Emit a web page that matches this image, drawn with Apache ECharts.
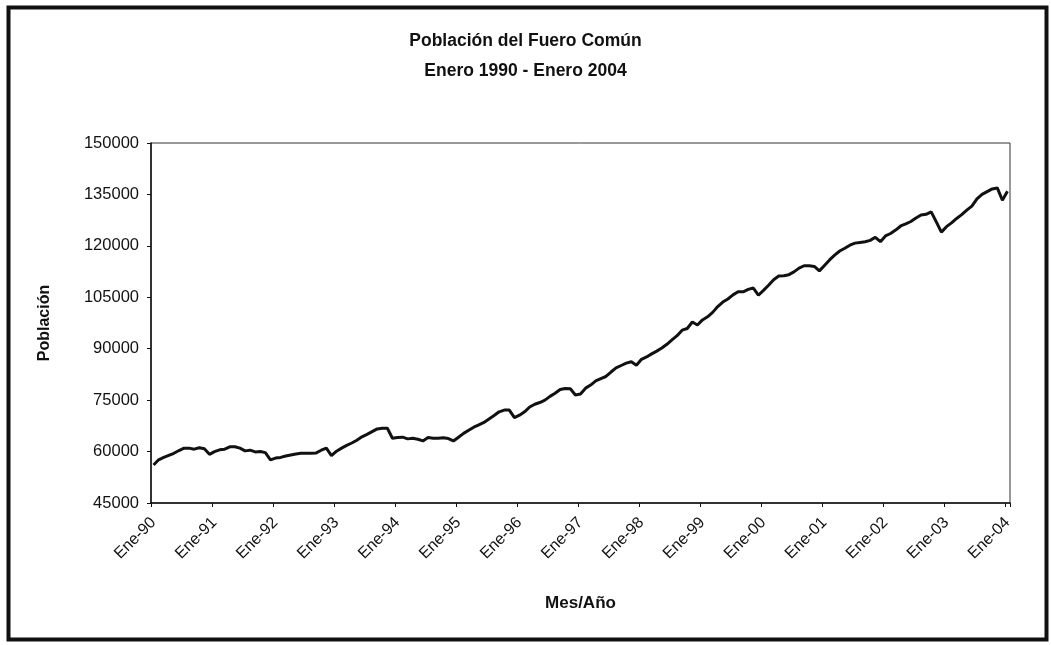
<!DOCTYPE html>
<html>
<head>
<meta charset="utf-8">
<script src="https://cdn.jsdelivr.net/npm/echarts@6/dist/echarts.min.js"></script>
<style>
  html, body { margin: 0; padding: 0; background: #fff; }
  #chart { width: 1051px; height: 645px; }
</style>
</head>
<body>
<div id="chart"></div>
<script>
// Población del fuero común, cifras mensuales (enero 1990 - enero 2004)
const meses = ['Ene','Feb','Mar','Abr','May','Jun','Jul','Ago','Sep','Oct','Nov','Dic'];
const anios = ['90','91','92','93','94','95','96','97','98','99','00','01','02','03','04'];

const pob1990 = [56100, 57600, 58300, 58900, 59500, 60300, 61000, 61000, 60700, 61100, 60800, 59200];
const pob1991 = [60000, 60500, 60700, 61400, 61400, 61000, 60200, 60400, 59900, 60000, 59700, 57600];
const pob1992 = [58100, 58300, 58700, 59000, 59300, 59500, 59500, 59500, 59600, 60400, 61000, 58800];
const pob1993 = [60100, 61000, 61800, 62500, 63300, 64300, 65000, 65800, 66600, 66800, 66800, 63900];
const pob1994 = [64100, 64200, 63700, 63900, 63600, 63100, 64100, 63900, 63900, 64000, 63800, 63100];
const pob1995 = [64200, 65300, 66200, 67100, 67800, 68500, 69500, 70500, 71600, 72100, 72100, 69900];
const pob1996 = [70600, 71600, 73000, 73800, 74300, 75000, 76100, 77000, 78100, 78400, 78300, 76500];
const pob1997 = [76800, 78500, 79400, 80600, 81300, 81900, 83200, 84400, 85100, 85800, 86200, 85200];
const pob1998 = [86900, 87600, 88500, 89300, 90200, 91300, 92600, 93800, 95400, 95900, 97800, 96900];
const pob1999 = [98400, 99300, 100600, 102300, 103600, 104500, 105700, 106600, 106600, 107300, 107700, 105600];
const pob2000 = [107000, 108500, 110100, 111200, 111300, 111600, 112400, 113500, 114200, 114200, 114000, 112700];
const pob2001 = [114300, 115900, 117300, 118500, 119300, 120200, 120800, 121000, 121200, 121600, 122500, 121200];
const pob2002 = [122900, 123600, 124600, 125800, 126400, 127100, 128100, 129000, 129200, 129900, 127000, 124000];
const pob2003 = [125600, 126700, 128000, 129100, 130400, 131600, 133700, 135000, 135800, 136600, 136900, 133300];
const pob2004 = [135900];

const yTicks = [45000, 60000, 75000, 90000, 105000, 120000, 135000, 150000];

const poblacion = [].concat(pob1990, pob1991, pob1992, pob1993, pob1994, pob1995, pob1996,
  pob1997, pob1998, pob1999, pob2000, pob2001, pob2002, pob2003, pob2004);

const categorias = [];
for (let a = 0; a < anios.length; a++) {
  for (let m = 0; m < 12; m++) {
    if (categorias.length < poblacion.length) categorias.push(meses[m] + '-' + anios[a]);
  }
}

const fuente = '"Liberation Sans", Arial, sans-serif';
const chart = echarts.init(document.getElementById('chart'), null, { renderer: 'canvas' });

chart.setOption({
  backgroundColor: '#ffffff',
  animation: false,
  title: {
    text: 'Población del Fuero Común\nEnero 1990 - Enero 2004',
    left: 'center',
    top: 21,
    textStyle: { fontFamily: fuente, fontSize: 17.5, fontWeight: 'bold', color: '#111', lineHeight: 30 }
  },
  graphic: [{
    type: 'rect',
    left: 6, top: 5,
    shape: { width: 1038, height: 632 },
    style: { fill: 'none', stroke: '#111', lineWidth: 4 },
    silent: true
  }],
  grid: {
    left: 151, right: 41, top: 143, bottom: 142,
    show: true, borderColor: '#333', borderWidth: 1, backgroundColor: '#fff'
  },
  xAxis: {
    type: 'category',
    data: categorias,
    boundaryGap: true,
    name: 'Mes/Año',
    nameLocation: 'middle',
    nameGap: 92,
    nameTextStyle: { fontFamily: fuente, fontSize: 17, fontWeight: 'bold', color: '#111' },
    axisLine: { lineStyle: { color: '#111', width: 1.5 } },
    axisTick: { show: true, interval: 11, length: 4, lineStyle: { color: '#111' } },
    axisLabel: {
      interval: 11, rotate: 45, margin: 17,
      fontFamily: fuente, fontSize: 16, color: '#111'
    },
    splitLine: { show: false }
  },
  yAxis: {
    type: 'value',
    min: yTicks[0],
    max: yTicks[yTicks.length - 1],
    interval: yTicks[1] - yTicks[0],
    name: 'Población',
    nameLocation: 'middle',
    nameGap: 98,
    nameRotate: 90,
    nameTextStyle: { fontFamily: fuente, fontSize: 16, fontWeight: 'bold', color: '#111' },
    axisLine: { show: true, lineStyle: { color: '#111', width: 1.5 } },
    axisTick: { show: true, length: 4, lineStyle: { color: '#111' } },
    axisLabel: {
      fontFamily: fuente, fontSize: 16.5, color: '#111', margin: 12,
      formatter: function (v) { return String(v); }
    },
    splitLine: { show: false }
  },
  series: [{
    type: 'line',
    data: poblacion,
    symbol: 'none',
    lineStyle: { color: '#111', width: 3 },
    emphasis: { disabled: true }
  }]
});
</script>
</body>
</html>
